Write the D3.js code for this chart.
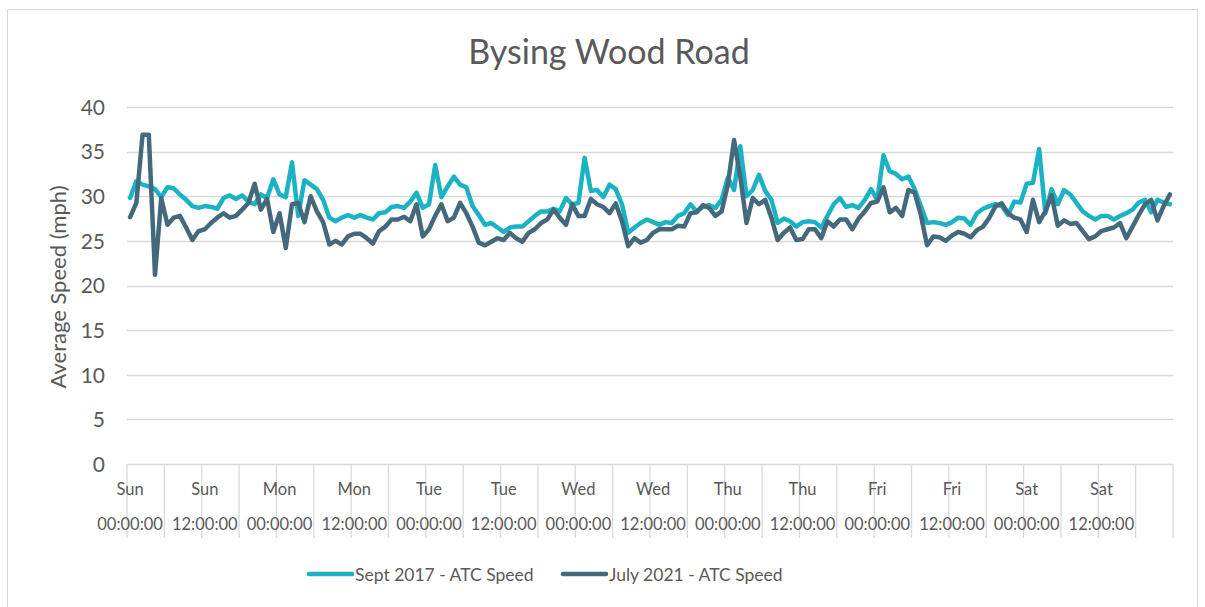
<!DOCTYPE html>
<html><head><meta charset="utf-8">
<script src="https://cdn.jsdelivr.net/npm/d3@7/dist/d3.min.js"></script>
<style>body{margin:0;background:#fff}svg{display:block}text{font-family:Lato,"Open Sans",sans-serif;fill:#595959}</style>
</head><body><svg id="c" width="1205" height="607"></svg>
<script>
const title = "Bysing Wood Road";
const yTitle = "Average Speed (mph)";
const days = ["Sun","Mon","Tue","Wed","Thu","Fri","Sat"];
const halfDayLabels = ["00:00:00","12:00:00"];
const yTicks = [0,5,10,15,20,25,30,35,40];
const seriesNames = ["Sept 2017 - ATC Speed","July 2021 - ATC Speed"];
const seriesColors = ["#1BB3C4","#44697D"];
const sept2017 = [
29.8,31.7,31.3,31.1,30.8,29.9,31.0,30.9,30.2,29.6,
28.9,28.7,28.9,28.8,28.6,29.8,30.1,29.7,30.1,29.4,
29.1,30.2,29.8,31.9,30.2,29.9,33.8,27.8,31.8,31.3,
30.8,29.6,27.6,27.2,27.6,27.9,27.6,27.9,27.6,27.4,
28.1,28.2,28.8,28.9,28.7,29.4,30.4,28.7,29.1,33.5,
29.9,31.1,32.2,31.3,31.0,28.9,27.9,26.8,27.0,26.5,
26.0,26.5,26.6,26.6,27.2,27.8,28.3,28.3,28.6,28.3,
29.8,29.1,29.25,34.3,30.6,30.7,29.9,31.3,30.8,29.1,
25.9,26.5,27.0,27.4,27.1,26.8,27.1,27.0,27.8,28.1,
29.1,28.3,28.8,29.0,28.7,29.6,32.1,30.7,35.6,30.0,
30.7,32.4,30.6,29.6,27.0,27.5,27.2,26.6,27.1,27.2,
27.1,26.5,27.8,29.1,29.8,28.8,29.0,28.7,29.6,30.8,
29.6,34.6,32.8,32.5,31.9,32.2,30.8,28.9,27.0,27.1,
27.0,26.8,27.1,27.6,27.5,26.8,28.1,28.6,28.9,29.1,
28.9,27.9,29.4,29.3,31.4,31.5,35.3,28.1,30.8,29.1,
30.7,30.2,29.25,28.3,27.8,27.4,27.8,27.8,27.4,27.8,
28.1,28.5,29.3,29.6,28.2,29.6,29.3,29.1];
const july2021 = [
27.65,29.25,36.9,36.9,21.2,29.8,26.8,27.6,27.8,26.5,
25.1,26.1,26.3,27.0,27.6,28.1,27.6,27.8,28.5,29.25,
31.4,28.5,29.7,26.0,28.1,24.2,29.1,29.25,27.1,30.0,
28.3,27.1,24.6,25.0,24.6,25.5,25.8,25.8,25.3,24.7,
26.1,26.6,27.4,27.4,27.7,27.2,29.1,25.5,26.3,27.8,
29.1,27.2,27.6,29.25,28.1,26.6,24.8,24.5,24.9,25.3,
25.1,25.9,25.3,24.9,25.9,26.3,27.0,27.4,28.5,27.6,
26.8,29.1,27.8,27.8,29.7,29.1,28.8,28.1,29.2,27.2,
24.4,25.3,24.8,25.1,25.9,26.3,26.3,26.3,26.7,26.6,
28.1,28.2,29.0,28.7,27.8,28.3,31.3,36.3,32.2,27.0,
29.8,29.1,29.6,27.6,25.1,25.9,26.5,25.1,25.2,26.3,
26.3,25.3,27.2,26.6,27.4,27.4,26.3,27.5,28.3,29.25,
29.4,31.0,28.2,28.7,27.8,30.7,30.4,27.9,24.5,25.5,
25.4,25.0,25.6,26.0,25.8,25.4,26.2,26.6,27.6,28.9,
29.2,28.1,27.6,27.4,26.0,29.6,27.1,28.3,30.1,26.7,
27.3,26.9,27.0,26.1,25.2,25.5,26.1,26.3,26.5,27.0,
25.3,26.6,27.9,29.1,29.6,27.3,28.9,30.2];

const svg = d3.select("#c");
const L = 127, R = 1173, T = 107, B = 464;
const idx = d3.range(sept2017.length);
const x = d3.scaleBand().domain(idx).range([L, R]);
const xc = i => x(i) + x.bandwidth()/2;
const y = d3.scaleLinear().domain([0, 40]).range([B, T]);
const grey = "#D9D9D9";

svg.append("rect").attr("x",7.5).attr("y",9.5).attr("width",1190).attr("height",620)
  .attr("fill","none").attr("stroke",grey).attr("stroke-width",1);

svg.append("text").attr("x",609).attr("y",64).attr("text-anchor","middle")
  .style("font-size","34px").text(title);

// gridlines
svg.append("g").selectAll("line").data(yTicks.filter(d=>d>0)).join("line")
  .attr("x1",L).attr("x2",R).attr("y1",d=>Math.round(y(d))+0.5).attr("y2",d=>Math.round(y(d))+0.5)
  .attr("stroke",grey).attr("stroke-width",1.3);

// y axis labels
const yAxis = d3.axisLeft(y).tickValues(yTicks).tickSize(0).tickPadding(22);
const ya = svg.append("g").attr("transform",`translate(${L},0)`).call(yAxis);
ya.select(".domain").remove();
ya.selectAll("text").style("font-size","21px").attr("fill","#595959").attr("dy","0.35em");

svg.append("text").attr("transform","translate(66,287) rotate(-90)").attr("text-anchor","middle")
  .style("font-size","22px").text(yTitle);

// x axis line and ticks
svg.append("line").attr("x1",L).attr("x2",R).attr("y1",B+0.5).attr("y2",B+0.5).attr("stroke",grey).attr("stroke-width",1.3);
const tickIdx = d3.range(0, sept2017.length + 1, 6);
svg.append("g").selectAll("line").data(tickIdx).join("line")
  .attr("x1",d=>L + d*x.step()).attr("x2",d=>L + d*x.step())
  .attr("y1",B).attr("y2",538).attr("stroke",grey).attr("stroke-width",1.3);

// x labels every 12 hours
const labIdx = d3.range(0, sept2017.length, 12);
const xl = svg.append("g");
labIdx.forEach(i => {
  const day = days[Math.floor(i/24)];
  const hl = halfDayLabels[(i/12)%2];
  xl.append("text").attr("x",xc(i)).attr("y",495).attr("text-anchor","middle").style("font-size","16.5px").text(day);
  xl.append("text").attr("x",xc(i)).attr("y",530).attr("text-anchor","middle").style("font-size","16.5px").text(hl);
});

// lines
const line = d3.line().x((d,i)=>xc(i)).y(d=>y(d)).curve(d3.curveLinear);
[sept2017, july2021].forEach((s,k)=>{
  svg.append("path").datum(s).attr("d",line).attr("fill","none")
    .attr("stroke",seriesColors[k]).attr("stroke-width",4.5).attr("stroke-linejoin","round").attr("stroke-linecap","round");
});

// legend
const legX = [309, 563];
seriesNames.forEach((n,k)=>{
  svg.append("line").attr("x1",legX[k]).attr("x2",legX[k]+43).attr("y1",574).attr("y2",574)
    .attr("stroke",seriesColors[k]).attr("stroke-width",4.5).attr("stroke-linecap","round");
  svg.append("text").attr("x",legX[k]+46).attr("y",580.5).style("font-size","17.5px").text(n);
});
</script></body></html>
